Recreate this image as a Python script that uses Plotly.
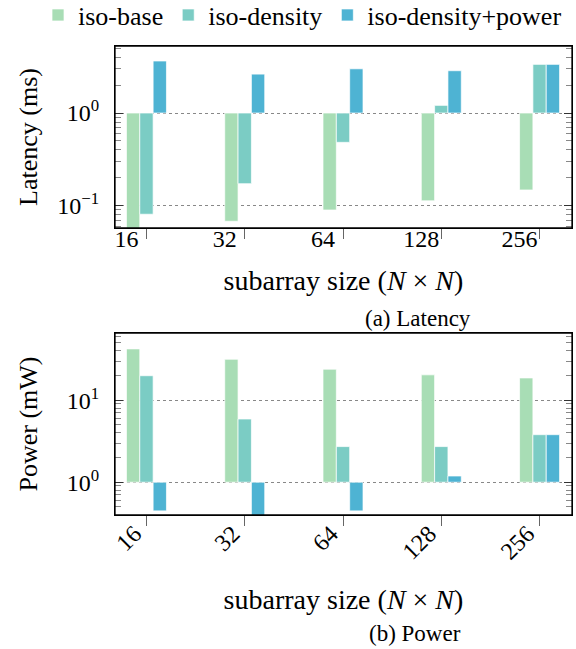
import plotly.graph_objects as go

# ---- data ----
categories = ["16", "32", "64", "128", "256"]
series_names = ["iso-base", "iso-density", "iso-density+power"]
series_colors = ["#a8ddb5", "#7bccc4", "#4eb3d3"]

latency_base = [0.056, 0.068, 0.090, 0.113, 0.148]
latency_density = [0.081, 0.173, 0.483, 1.21, 3.35]
latency_dp = [3.64, 2.63, 3.0, 2.86, 3.35]

power_base = [42.3, 31.6, 23.9, 20.4, 18.7]
power_density = [19.9, 5.9, 2.72, 2.72, 3.8]
power_dp = [0.447, 0.38, 0.447, 1.19, 3.8]

lat_tickvals = [0.1, 1]
lat_ticktext = ["10<sup>−1</sup>", "10<sup>0</sup>"]
pow_tickvals = [1, 10]
pow_ticktext = ["10<sup>0</sup>", "10<sup>1</sup>"]

FONT = "Liberation Serif"
BAR_BASE = 1.0  # bars on a log axis start at 10^0

def minor_positions(emin, emax):
    return [m * 10.0 ** e for e in range(emin, emax + 1) for m in range(2, 10)]

fig = go.Figure()

lat_series = [latency_base, latency_density, latency_dp]
pow_series = [power_base, power_density, power_dp]

for name, col, vals in zip(series_names, series_colors, lat_series):
    fig.add_trace(go.Bar(
        x=categories, y=[v - BAR_BASE for v in vals], base=BAR_BASE,
        name=name, marker=dict(color=col, line=dict(color="rgba(255,255,255,0.7)", width=1)),
        xaxis="x", yaxis="y", legendgroup=name, showlegend=True,
    ))
for name, col, vals in zip(series_names, series_colors, pow_series):
    fig.add_trace(go.Bar(
        x=categories, y=[v - BAR_BASE for v in vals], base=BAR_BASE,
        name=name, marker=dict(color=col, line=dict(color="rgba(255,255,255,0.7)", width=1)),
        xaxis="x2", yaxis="y2", legendgroup=name, showlegend=False,
    ))

xdom = [115 / 576, 572 / 576]
top_dom = [(649 - 228) / 649, (649 - 46) / 649]
bot_dom = [(649 - 515) / 649, (649 - 333) / 649]

def xaxis_cfg(**kw):
    d = dict(
        type="category", range=[-0.32, 4.33], showline=True, linecolor="black", linewidth=1.3,
        mirror=True, ticks="outside", ticklen=10, tickcolor="#666", tickwidth=1.2,
        tickfont=dict(family=FONT, size=24, color="black"), showgrid=False, zeroline=False,
    )
    d.update(kw)
    return d

def yaxis_cfg(minor_vals, **kw):
    d = dict(
        type="log", showline=True, linecolor="black", linewidth=1.3, mirror="allticks",
        ticks="inside", ticklen=8, tickcolor="#333", tickwidth=1.2,
        tickfont=dict(family=FONT, size=24, color="black"), ticklabelstandoff=10,
        showgrid=True, gridcolor="#888", griddash="dot", gridwidth=1, zeroline=False,
        minor=dict(ticks="inside", ticklen=6, tickcolor="#888", tickwidth=1.2, tickmode="array",
                   tickvals=minor_vals, showgrid=False),
    )
    d.update(kw)
    return d

frame = dict(type="rect", x0=0, x1=1, y0=0, y1=1, line=dict(color="black", width=1.3),
             fillcolor="rgba(0,0,0,0)", layer="above")

xtitle = "subarray size (<i>N</i> × <i>N</i>)"

fig.update_layout(
    width=576, height=649,
    margin=dict(l=0, r=0, t=0, b=0, autoexpand=False),
    paper_bgcolor="white", plot_bgcolor="white",
    barmode="group", bargap=0.593, bargroupgap=0,
    font=dict(family=FONT, color="black"),
    xaxis=xaxis_cfg(domain=xdom, anchor="y", ticklabelstandoff=-21, ticklabelshift=-20,
                    title=dict(text=xtitle, font=dict(family=FONT, size=28), standoff=19)),
    yaxis=yaxis_cfg(minor_positions(-2, 0), domain=top_dom, anchor="x", range=[-1.24, 0.723],
                    tickvals=lat_tickvals, ticktext=lat_ticktext,
                    title=dict(text="Latency (ms)", font=dict(family=FONT, size=26), standoff=12)),
    xaxis2=xaxis_cfg(domain=xdom, anchor="y2", tickangle=-45, ticklabelstandoff=-16,
                     ticklabelshift=-12,
                     title=dict(text=xtitle, font=dict(family=FONT, size=28), standoff=25)),
    yaxis2=yaxis_cfg(minor_positions(-1, 1), domain=bot_dom, anchor="x2", range=[-0.40, 1.82],
                     tickvals=pow_tickvals, ticktext=pow_ticktext,
                     title=dict(text="Power (mW)", font=dict(family=FONT, size=26), standoff=21)),
    legend=dict(orientation="h", x=0.066, y=1.013, xanchor="left", yanchor="top",
                font=dict(family=FONT, size=26), itemwidth=30, bgcolor="rgba(0,0,0,0)"),
    shapes=[
        dict(frame, xref="x domain", yref="y domain"),
        dict(frame, xref="x2 domain", yref="y2 domain"),
    ],
    annotations=[
        dict(text="(a) Latency", x=418 / 576, y=(649 - 318) / 649, xref="paper", yref="paper",
             xanchor="center", yanchor="middle", showarrow=False,
             font=dict(family=FONT, size=23)),
        dict(text="(b) Power", x=415 / 576, y=(649 - 633) / 649, xref="paper", yref="paper",
             xanchor="center", yanchor="middle", showarrow=False,
             font=dict(family=FONT, size=23)),
    ],
)

fig.write_html("out.html", config={"displayModeBar": False},
               post_script="document.body.style.margin='0px';")
